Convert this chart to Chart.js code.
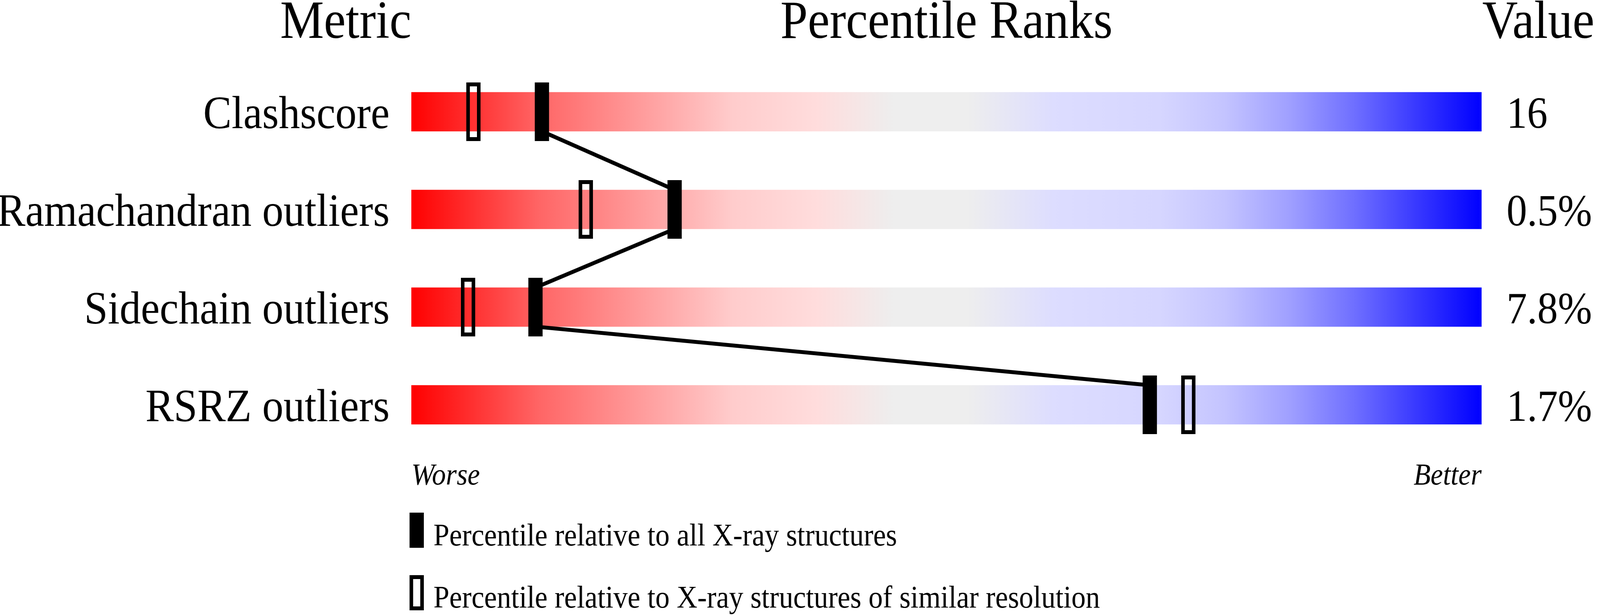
<!DOCTYPE html>
<html>
<head>
<meta charset="utf-8">
<script src="https://cdn.jsdelivr.net/npm/chart.js@4"></script>
<style>
  html, body { margin: 0; padding: 0; background: #ffffff; overflow: hidden; }
  canvas { display: block; }
</style>
</head>
<body>
<canvas id="c" width="4485" height="1574"></canvas>
<script>
// ---- data ----
const categories = ['Clashscore', 'Ramachandran outliers', 'Sidechain outliers', 'RSRZ outliers'];
const valueLabels = ['16', '0.5%', '7.8%', '1.7%'];
const pctAll = [12.2, 24.6, 11.6, 69.0];       // percentile relative to all X-ray structures
const pctSimilar = [5.8, 16.3, 5.3, 72.6];     // percentile relative to similar resolution
const axisEndLabels = ['Worse', 'Better'];
const headers = ['Metric', 'Percentile Ranks', 'Value'];
const legendLabels = ['Percentile relative to all X-ray structures',
                      'Percentile relative to X-ray structures of similar resolution'];

// ---- styles ----
const FONT = '"Liberation Serif", "Times New Roman", serif';
const HALF_BAR = 0.2; // half bar height in row units (100px of 250px rows)

// the drawing is laid out on a 4485x1574 canvas which is displayed over the whole viewport
const cvs = document.getElementById('c');
cvs.style.width = (window.innerWidth || 4485) + 'px';
cvs.style.height = (window.innerHeight || 1574) + 'px';

function markerCanvas(filled, w, h, b) {
  const cv = document.createElement('canvas');
  cv.width = w; cv.height = h;
  const c = cv.getContext('2d');
  c.fillStyle = '#000';
  if (filled) c.fillRect(0, 0, w, h);
  else {
    c.fillRect(0, 0, w, b);
    c.fillRect(0, h - b, w, b);
    c.fillRect(0, 0, b, h);
    c.fillRect(w - b, 0, b, h);
  }
  return cv;
}
const filledMarker = markerCanvas(true, 40, 150, 10);
const openMarker = markerCanvas(false, 40, 150, 10);

const gradStops = [
  [0, '#ff0000'], [0.12, '#ff6666'], [0.30, '#ffcccc'], [0.38, '#ffdddd'],
  [0.45, '#eeeeee'], [0.52, '#eeeeee'], [0.60, '#ddddff'], [0.70, '#d6d6ff'],
  [0.76, '#c4c4ff'], [0.82, '#a0a0ff'], [0.88, '#7070ff'], [0.94, '#3838ff'], [1, '#0000ff']
];

function barGradient(context) {
  const chart = context.chart;
  const xs = chart.scales.x;
  if (!chart.chartArea || !xs) return '#ff0000';
  const x0 = xs.getPixelForValue(0), x1 = xs.getPixelForValue(100);
  const g = chart.ctx.createLinearGradient(x0, 0, x1, 0);
  gradStops.forEach(s => g.addColorStop(s[0], s[1]));
  return g;
}

// connecting line between filled markers: bottom of row i to top of row i+1
const linePoints = [];
pctAll.forEach((p, i) => {
  if (i > 0) linePoints.push({ x: p, y: i - HALF_BAR });
  if (i < pctAll.length - 1) linePoints.push({ x: p, y: i + HALF_BAR });
});

const extrasPlugin = {
  id: 'extras',
  afterDraw(chart) {
    const ctx = chart.ctx;
    const ca = chart.chartArea;
    ctx.save();
    ctx.fillStyle = '#000';
    ctx.textBaseline = 'alphabetic';
    // headers
    ctx.font = '138px ' + FONT;
    ctx.textAlign = 'right';
    ctx.fillText(headers[0], ca.left, 97);
    ctx.textAlign = 'center';
    ctx.fillText(headers[1], (ca.left + ca.right) / 2, 97);
    ctx.textAlign = 'left';
    ctx.fillText(headers[2], ca.right + 2, 97);
    // legend
    const lx = ca.left - 5;
    ctx.fillRect(lx, 1312, 40, 90);
    ctx.fillRect(lx, 1472, 40, 10);
    ctx.fillRect(lx, 1552, 40, 10);
    ctx.fillRect(lx, 1472, 10, 90);
    ctx.fillRect(lx + 30, 1472, 10, 90);
    ctx.font = '80px ' + FONT;
    ctx.fillText(legendLabels[0], ca.left + 62, 1396);
    ctx.fillText(legendLabels[1], ca.left + 62, 1555);
    ctx.restore();
  }
};

new Chart(cvs, {
  type: 'scatter',
  data: {
    datasets: [
      {
        type: 'scatter', label: 'similar',
        data: pctSimilar.map((p, i) => ({ x: p, y: i })),
        pointStyle: openMarker, pointRadius: 10, order: 1
      },
      {
        type: 'scatter', label: 'all',
        data: pctAll.map((p, i) => ({ x: p, y: i })),
        pointStyle: filledMarker, pointRadius: 10, order: 0
      },
      {
        type: 'line', label: 'link', data: linePoints,
        borderColor: '#000', borderWidth: 10, pointRadius: 0,
        tension: 0, fill: false, order: 2
      },
      {
        type: 'bar', label: 'range', indexAxis: 'y',
        data: categories.map((c, i) => ({ x: [0, 100], y: i })),
        backgroundColor: barGradient, borderWidth: 0,
        barThickness: 100, order: 3
      }
    ]
  },
  options: {
    responsive: false,
    animation: false,
    devicePixelRatio: 1,
    events: [],
    layout: { padding: { left: 0, right: 0, top: 161, bottom: 263 } },
    plugins: { legend: { display: false }, tooltip: { enabled: false }, title: { display: false } },
    scales: {
      x: {
        type: 'linear', min: 0, max: 100, position: 'bottom', offset: false,
        grid: { display: false }, border: { display: false },
        afterBuildTicks: s => { s.ticks = [{ value: 0 }, { value: 100 }]; },
        afterFit: s => { s.height = 150; },
        ticks: {
          align: 'inner', padding: 4, color: '#000',
          font: { family: FONT, size: 78, style: 'italic' },
          callback: v => (v === 0 ? axisEndLabels[0] : axisEndLabels[1])
        }
      },
      y: {
        type: 'linear', min: -0.5, max: 3.5, reverse: true, position: 'left', offset: false,
        grid: { display: false }, border: { display: false },
        afterBuildTicks: s => { s.ticks = categories.map((c, i) => ({ value: i })); },
        afterFit: s => { s.width = 1153; },
        ticks: {
          padding: 53, labelOffset: 11, color: '#000',
          font: { family: FONT, size: 119 },
          callback: v => categories[v]
        }
      },
      y2: {
        type: 'linear', min: -0.5, max: 3.5, reverse: true, position: 'right', offset: false,
        grid: { display: false }, border: { display: false },
        afterBuildTicks: s => { s.ticks = valueLabels.map((c, i) => ({ value: i })); },
        afterFit: s => { s.width = 332; },
        ticks: {
          padding: 62, labelOffset: 11, color: '#000',
          font: { family: FONT, size: 115 },
          callback: v => valueLabels[v]
        }
      }
    }
  },
  plugins: [extrasPlugin]
});
</script>
</body>
</html>
